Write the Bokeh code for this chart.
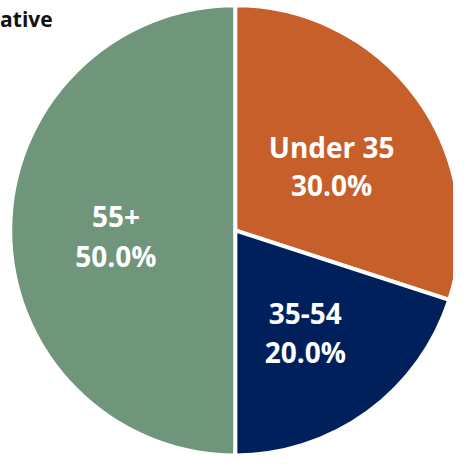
import math
from bokeh.plotting import figure
from bokeh.models import Range1d, ColumnDataSource
from bokeh.core.properties import value
from bokeh.embed import file_html
from bokeh.resources import INLINE

# ---- data ----
categories = ["Under 35", "35-54", "55+"]
shares = [30.0, 20.0, 50.0]
colors = ["#C65F2A", "#00205B", "#6F957A"]
title_text = "Age Distribution of Respondents: Representative"

# figure fits the window; data units follow the 469x471 reference picture
W, H = 453, 455
RW, RH = 469, 471
p = figure(width=W, height=H, output_backend="svg", toolbar_location=None,
           x_range=Range1d(0, RW), y_range=Range1d(0, RH), min_border=0)
p.axis.visible = False
p.grid.visible = False
p.outline_line_color = None
p.background_fill_color = "white"
p.border_fill_color = "white"

cx, cy, r = 243, RH - 238, 233
total = sum(shares)
starts, ends, mids = [], [], []
a = math.pi / 2
for s in shares:
    da = 2 * math.pi * s / total
    starts.append(a)
    ends.append(a - da)
    mids.append(a - da / 2)
    a -= da

src = ColumnDataSource(dict(start=starts, end=ends, color=colors))
p.wedge(x=cx, y=cy, radius=r, start_angle="start", end_angle="end",
        direction="clock", fill_color="color", line_color="white",
        line_width=4, source=src)

lr = 0.53 * r
lx = [cx + lr * math.cos(m) for m in mids]
ly = [cy + lr * math.sin(m) - 6 for m in mids]
pct = [f"{s:.1f}%" for s in shares]
lab = ColumnDataSource(dict(x=lx, y1=[y + 20 for y in ly], y2=[y - 20 for y in ly],
                            cat=categories, pct=pct))
for col, ycol in (("cat", "y1"), ("pct", "y2")):
    p.text(x="x", y=ycol, text=col, source=lab, text_align="center",
           text_baseline="middle", text_color="white",
           text_font=value("Open Sans"), text_font_style="bold",
           text_font_size="28px")

p.text(x=[54], y=[RH - 19], text=[title_text], text_align="right",
       text_baseline="alphabetic", text_color="#111111",
       text_font=value("Open Sans"), text_font_style="bold",
       text_font_size="21px")

open("out.html", "w").write(file_html(p, INLINE))
